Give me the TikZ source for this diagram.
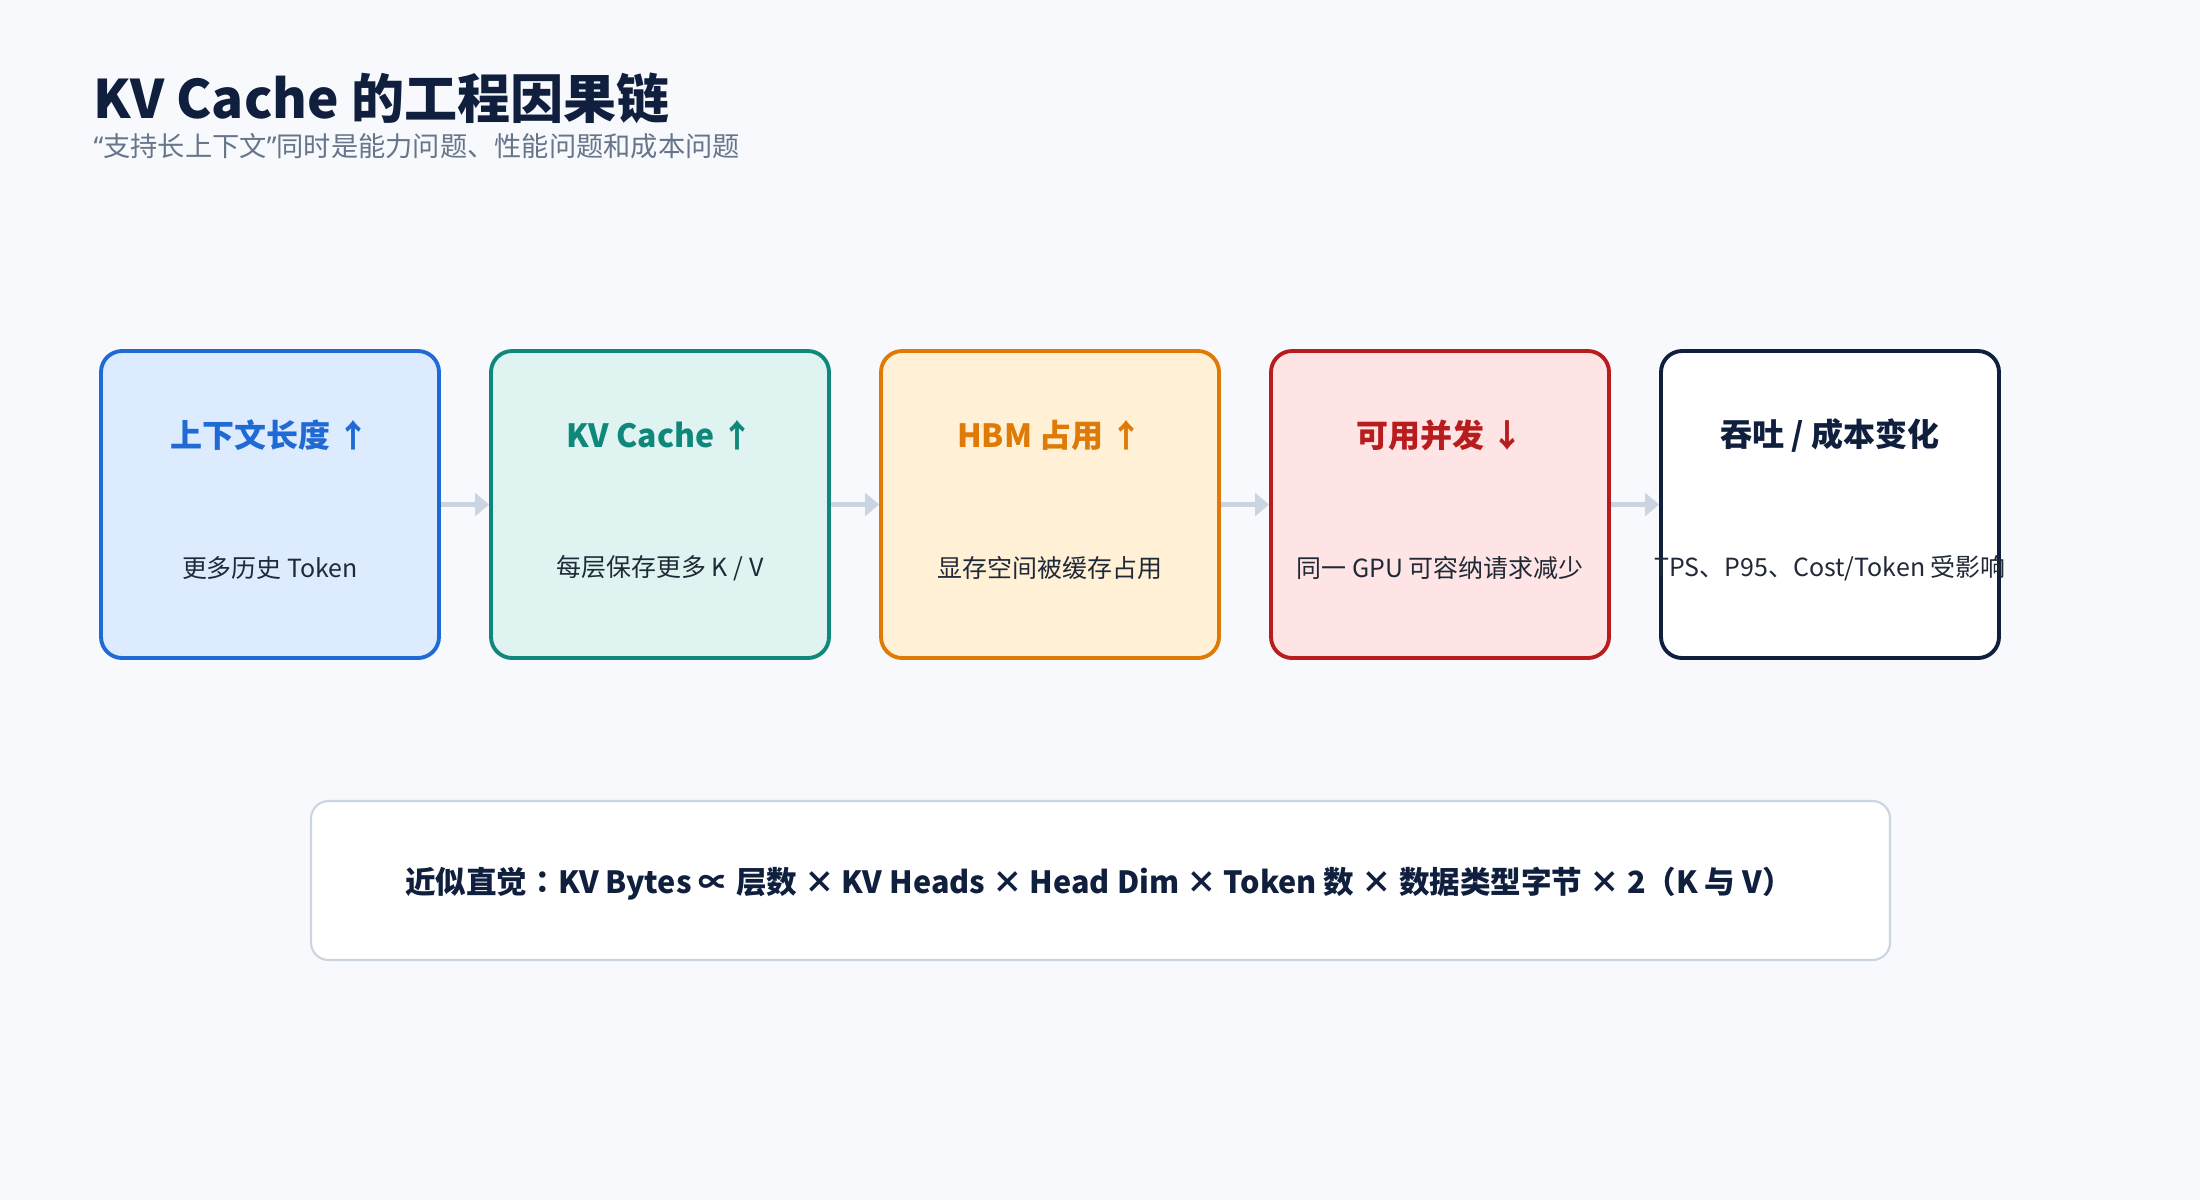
\documentclass[tikz,border=0pt]{standalone}
\usepackage{fontspec}
\setmainfont{Noto Sans CJK SC}
\newfontfamily\quotefont{Noto Sans}
\newfontfamily\tcfont{Noto Sans CJK TC}
\usetikzlibrary{arrows.meta}
\definecolor{bgpage}{HTML}{F7F9FC}
\definecolor{navy}{HTML}{0F1F3D}
\definecolor{subgray}{HTML}{66758A}
\definecolor{txtdark}{HTML}{1F2937}
\definecolor{edgegray}{HTML}{CBD5E1}
\definecolor{blueline}{HTML}{1F6AD4}\definecolor{bluefill}{HTML}{DDEBFE}
\definecolor{tealline}{HTML}{0F877B}\definecolor{tealfill}{HTML}{DFF4F0}
\definecolor{orangeline}{HTML}{DF7A06}\definecolor{orangefill}{HTML}{FFF0D6}
\definecolor{redline}{HTML}{B91C1C}\definecolor{redfill}{HTML}{FEE4E4}
\tikzset{
  stage/.style={draw=#1line,fill=#1fill,line width=1.1pt,rounded corners=6pt,
    minimum width=3.38cm,minimum height=3.07cm},
  stagetitle/.style={text=#1line,font=\bfseries\fontsize{9.1}{11}\selectfont},
  stagenote/.style={text=txtdark,font=\fontsize{7.1}{9}\selectfont},
  flow/.style={draw=edgegray,line width=1.5pt,-{Triangle[length=4pt,width=6.5pt]}}
}
\begin{document}
\begin{tikzpicture}
\useasboundingbox[fill=bgpage] (0,0) rectangle (22,-12);
\node [anchor=base west,inner sep=0pt,text=navy,font=\bfseries\fontsize{15.1}{19}\selectfont,name=title] at (0.93,-1.18){KV Cache 的工程因果链};
\node [anchor=base west,inner sep=0pt,text=subgray,font=\fontsize{7.75}{10}\selectfont,name=subtitle] at (0.93,-1.56){{\quotefont “}支持长上下文{\quotefont ”}同时是能力问题、性能问题和成本问题};
% the five stages
\node [stage=blue,name=s1] at (2.70,-5.045){};
\node [stage=teal,name=s2] at (6.60,-5.045){};
\node [stage=orange,name=s3] at (10.50,-5.045){};
\node [stage=red,name=s4] at (14.40,-5.045){};
\node [stage=blue,draw=navy,fill=white,name=s5] at (18.30,-5.045){};
\node [stagetitle=blue,name=t1] at (2.70,-4.35){上下文长度 ↑};
\node [stagetitle=teal,name=t2] at (6.60,-4.35){KV Cache ↑};
\node [stagetitle=orange,name=t3] at (10.50,-4.35){HBM 占用 ↑};
\node [stagetitle=red,name=t4] at (14.40,-4.35){可用并发 ↓};
\node [stagetitle=blue,text=navy,name=t5] at (18.30,-4.35){吞吐 / 成本变化};
\node [stagenote,name=d1] at (2.70,-5.68){更多历史 Token};
\node [stagenote,name=d2] at (6.60,-5.68){每层保存更多 K / V};
\node [stagenote,name=d3] at (10.50,-5.68){显存空间被缓存占用};
\node [stagenote,name=d4] at (14.40,-5.68){同一 GPU 可容纳请求减少};
\node [stagenote,name=d5] at (18.30,-5.68){TPS、P95、Cost/Token 受影响};
\draw[flow] (s1)--(s2);
\draw[flow] (s2)--(s3);
\draw[flow] (s3)--(s4);
\draw[flow] (s4)--(s5);
% formula box
\node [draw=edgegray,fill=white,line width=0.6pt,rounded corners=5pt,
  minimum width=15.79cm,minimum height=1.59cm,name=formula] at (11.005,-8.805){};
\node [text=navy,font=\bfseries\fontsize{8.7}{11}\selectfont,name=formulatext] at (10.99,-8.84){近似直觉{\tcfont ：}KV Bytes ∝ 层数 × KV Heads × Head Dim × Token 数 × 数据类型字节 × 2（K 与 V）};
\end{tikzpicture}
\end{document}
